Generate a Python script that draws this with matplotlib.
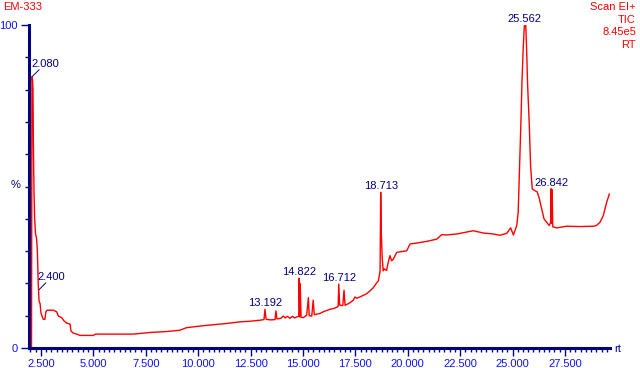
import matplotlib.pyplot as plt
import numpy as np

plt.rcParams['font.family'] = ['Liberation Sans', 'DejaVu Sans']

# retention time (min) / relative intensity (%)
rt_front = [1.96, 2.05, 2.07, 2.10, 2.12, 2.14, 2.17, 2.20, 2.24, 2.29, 2.33, 2.37, 2.41, 2.46,
            2.50, 2.55, 2.61, 2.69, 2.74, 2.80, 3.09, 3.25, 3.33, 3.49, 3.60, 3.73, 3.89, 3.93,
            4.04, 4.21, 4.36]
int_front = [0.0, 0.0, 84.0, 83.0, 80.0, 62.7, 47.8, 40.0, 35.4, 34.0, 30.0, 20.0, 14.6, 13.7,
             10.9, 9.9, 8.9, 8.9, 11.3, 11.7, 11.7, 11.2, 9.9, 9.4, 8.4, 7.7, 7.4, 5.3,
             4.6, 4.3, 3.9]

rt_base = [5.00, 5.10, 6.91, 7.70, 8.50, 9.13, 9.45, 10.25, 11.04, 11.36, 12.00, 12.50, 12.95,
           13.14, 13.19, 13.24, 13.45, 13.67, 13.71, 13.76, 13.95, 14.06, 14.15, 14.25, 14.38,
           14.50, 14.60, 14.70, 14.80, 14.82, 14.85, 14.87, 14.91, 15.02, 15.18, 15.26, 15.30,
           15.42, 15.49, 15.54, 15.81, 16.00, 16.13, 16.30, 16.50, 16.61, 16.68, 16.71, 16.75,
           16.90, 16.96, 17.01, 17.24, 17.40, 17.48, 17.56, 17.72, 18.04, 18.20, 18.36, 18.52,
           18.60, 18.68]
int_base = [3.9, 4.3, 4.3, 4.8, 5.1, 5.5, 6.3, 6.9, 7.4, 7.6, 8.1, 8.3, 8.6,
            8.8, 12.0, 8.9, 8.7, 8.8, 11.5, 9.0, 9.2, 9.9, 9.3, 9.8, 9.2,
            9.8, 9.3, 9.6, 9.8, 21.6, 9.6, 19.9, 9.5, 9.4, 10.2, 15.6, 10.0,
            9.9, 14.8, 10.3, 10.7, 11.3, 11.6, 12.0, 12.3, 12.6, 12.9, 19.8, 13.3,
            13.1, 17.9, 13.2, 14.0, 14.8, 15.8, 15.4, 15.8, 16.8, 17.7, 18.7, 20.2,
            20.8, 23.9]

rt_hump = [18.71, 18.74, 18.78, 18.83, 18.88, 18.99, 19.05, 19.15, 19.23, 19.31, 19.47, 19.95,
           20.11, 20.43, 20.90, 21.38, 21.62, 21.86, 22.34, 23.13, 23.60, 24.08, 24.40, 24.72,
           24.91, 25.04, 25.20]
int_hump = [48.2, 35.4, 28.0, 23.9, 24.5, 24.0, 26.0, 28.6, 27.0, 27.5, 29.6, 30.1,
            32.2, 32.5, 33.0, 33.7, 35.1, 35.0, 35.3, 36.3, 35.6, 35.3, 34.9, 35.5,
            37.2, 35.0, 37.9]

rt_main = [25.27, 25.35, 25.40, 25.45, 25.51, 25.56, 25.60, 25.63, 25.67, 25.72, 25.80, 25.86,
           25.94, 26.04, 26.18, 26.28, 26.39, 26.50, 26.63, 26.75, 26.82, 26.84, 26.87, 26.89,
           26.92, 27.11, 27.58, 28.20, 28.85, 29.00, 29.17, 29.33, 29.49, 29.62]
int_main = [42.0, 58.6, 70.0, 82.4, 92.8, 99.5, 100.0, 100.0, 92.8, 81.4, 68.9, 56.5,
            49.3, 48.8, 48.3, 46.2, 43.1, 40.0, 38.9, 37.9, 38.9, 49.3, 38.6, 49.0,
            37.5, 37.2, 37.7, 37.6, 37.7, 37.9, 38.9, 41.0, 45.1, 47.7]

peak_rt = [2.080, 2.400, 13.192, 14.822, 16.712, 18.713, 25.562, 26.842]
peak_int = [84.0, 18.0, 12.0, 21.6, 19.8, 48.2, 100.0, 49.3]

x_ticks = [2.5, 5.0, 7.5, 10.0, 12.5, 15.0, 17.5, 20.0, 22.5, 25.0, 27.5]

rt = rt_front + rt_base + rt_hump + rt_main
tic = int_front + int_base + int_hump + int_main

navy = '#000080'
blue = '#1010ff'
red = '#ff0000'

fig = plt.figure(figsize=(6.4, 3.68), dpi=100)
ax = fig.add_axes([29/640, 20/368, 581/640, 323/368])

ax.plot(rt, tic, color=red, lw=1.0)
ax.set_xlim(1.93, 29.65)
ax.set_ylim(0, 100)

for s in ['top', 'right']:
    ax.spines[s].set_visible(False)
for s in ['left', 'bottom']:
    ax.spines[s].set_color(navy)
    ax.spines[s].set_linewidth(2.2)

ax.set_xticks(x_ticks)
ax.set_xticklabels(['%.3f' % t for t in x_ticks])
ax.set_xticks(np.arange(2.0, 29.6, 0.25), minor=True)
ax.set_yticks([0, 100])
ax.set_yticklabels(['0', '100'])
ax.set_yticks(np.arange(10, 100, 10), minor=True)
ax.tick_params(which='major', length=6, width=1, color=navy, labelcolor=blue, labelsize=8, pad=2)
ax.tick_params(which='minor', length=3, width=1, color=navy)

# peak labels
for t, i in zip(peak_rt, peak_int):
    if t < 3:
        ax.annotate('', xy=(t, i), xytext=(7, 7), textcoords='offset pixels',
                    arrowprops=dict(arrowstyle='-', color=navy, lw=0.7, shrinkA=0, shrinkB=0))
        ax.annotate('%.3f' % t, xy=(t, i), xytext=(-1, 10), textcoords='offset pixels',
                    ha='left', va='baseline', color=navy, fontsize=8)
    else:
        ax.annotate('%.3f' % t, xy=(t, i), xytext=(0, 3), textcoords='offset pixels',
                    ha='center', va='baseline', color=navy, fontsize=8)

fig.text(3/640, 1 - 7/368, 'EM-333', color=red, fontsize=8, ha='left', va='center')
header = ['Scan EI+', 'TIC', '8.45e5', 'RT']
for k, h in enumerate(header):
    fig.text(636/640, 1 - (7 + 12.7*k)/368, h, color=red, fontsize=8, ha='right', va='center')
fig.text(16/640, 1 - 185/368, '%', color=navy, fontsize=8, ha='center', va='center')
fig.text(614/640, 1 - 349/368, 'rt', color=navy, fontsize=8, ha='left', va='center')

plt.savefig('out.png', dpi=100)
